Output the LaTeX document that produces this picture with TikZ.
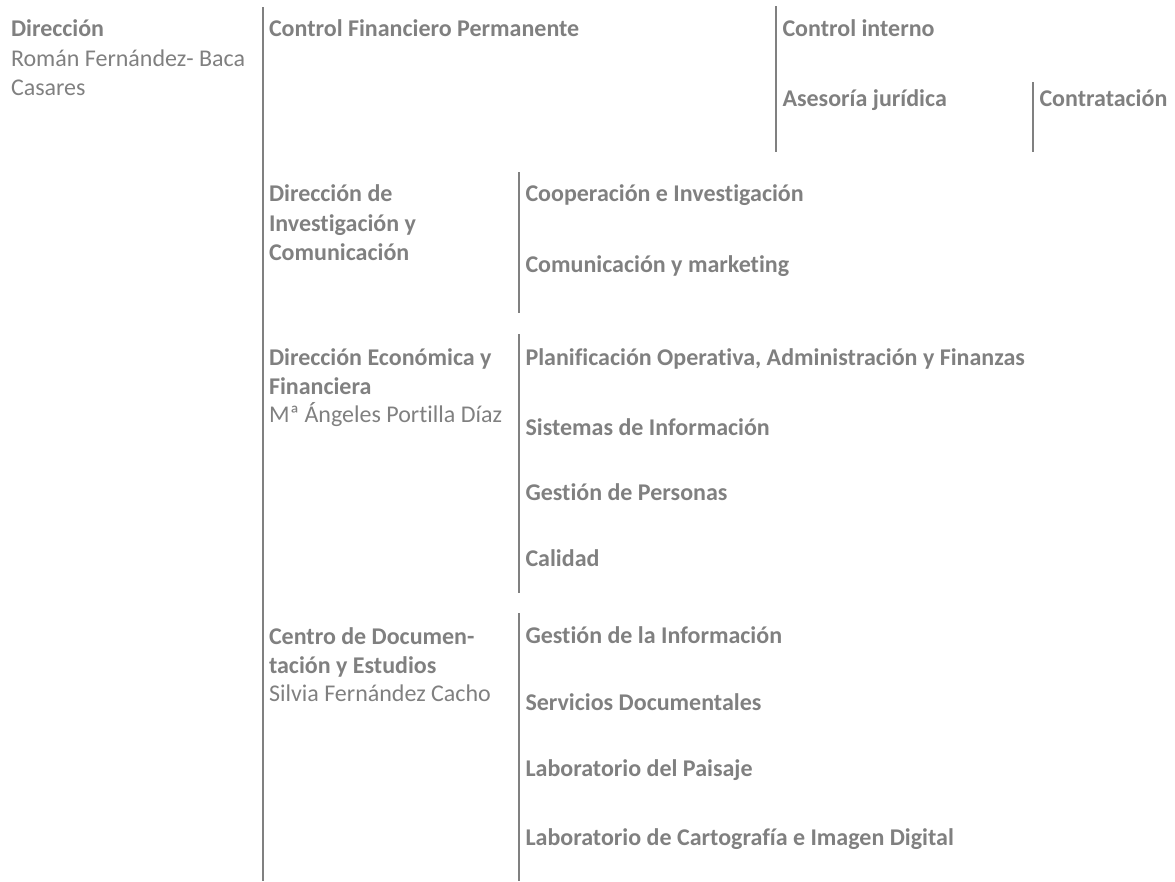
\documentclass[tikz,border=0pt]{standalone}
\usepackage{fontspec}
\setmainfont{Carlito}[Ligatures=CommonOff]
\definecolor{txtgray}{RGB}{128,128,128}
\definecolor{linegray}{RGB}{128,128,128}
\begin{document}
\begin{tikzpicture}[x=1pt,y=-1pt,
  lbl/.style={anchor=base west,inner sep=0pt,outer sep=0pt,text=txtgray,align=left,
    font=\fontsize{24}{29.3}\selectfont},
  bl/.style={lbl,font=\fontsize{24}{29.3}\selectfont\bfseries},
  rule/.style={draw=linegray,line width=2pt}]
\useasboundingbox (0,0) rectangle (1175,881);
% rules
\draw[rule] (262.7,7) coordinate (m1) -- (262.7,881) coordinate (m2);
\draw[rule] (775.7,6) coordinate (c1) -- (775.7,152) coordinate (c2);
\draw[rule] (1032.7,82) coordinate (k1) -- (1032.7,152) coordinate (k2);
\draw[rule] (518.5,172) coordinate (i1) -- (518.5,312.5) coordinate (i2);
\draw[rule] (518.5,334) coordinate (e1) -- (518.5,593) coordinate (e2);
\draw[rule] (518.5,613) coordinate (d1) -- (518.5,881) coordinate (d2);
% left column (multi-line nodes are anchored at the baseline of their last line)
\node[bl] (dir) at (11,36.5) {Dirección};
\node[lbl] (dirn) at (11,95.5) {Román Fernández- Baca\\Casares};
% second column
\node[bl] (cfp) at (269,36.5) {Control Financiero Permanente};
\node[bl] (dic) at (269,260.3) {Dirección de\\Investigación y\\Comunicación};
\node[bl] (def) at (269,394.3) {Dirección Económica y\\Financiera};
\node[lbl] (defn) at (269,422.7) {Mª Ángeles Portilla Díaz};
\node[bl] (cde) at (269,673.3) {Centro de Documen-\\tación y Estudios};
\node[lbl] (cden) at (269,701.7) {Silvia Fernández Cacho};
% top right
\node[bl] (ci) at (782.5,36.5) {Control interno};
\node[bl] (aj) at (782.5,106.5) {Asesoría jurídica};
\node[bl] (con) at (1039.5,106.5) {Contratación};
% third column
\node[bl] (coi) at (525.5,201.7) {Cooperación e Investigación};
\node[bl] (cym) at (525.5,272) {Comunicación y marketing};
\node[bl] (poa) at (525.5,365) {Planificación Operativa, Administración y Finanzas};
\node[bl] (sin) at (525.5,435) {Sistemas de Información};
\node[bl] (gp) at (525.5,500.5) {Gestión de Personas};
\node[bl] (cal) at (525.5,566) {Calidad};
\node[bl] (gi) at (525.5,643) {Gestión de la Información};
\node[bl] (sd) at (525.5,710) {Servicios Documentales};
\node[bl] (lp) at (525.5,776.5) {Laboratorio del Paisaje};
\node[bl] (lc) at (525.5,845) {Laboratorio de Cartografía e Imagen Digital};
\end{tikzpicture}
\end{document}
